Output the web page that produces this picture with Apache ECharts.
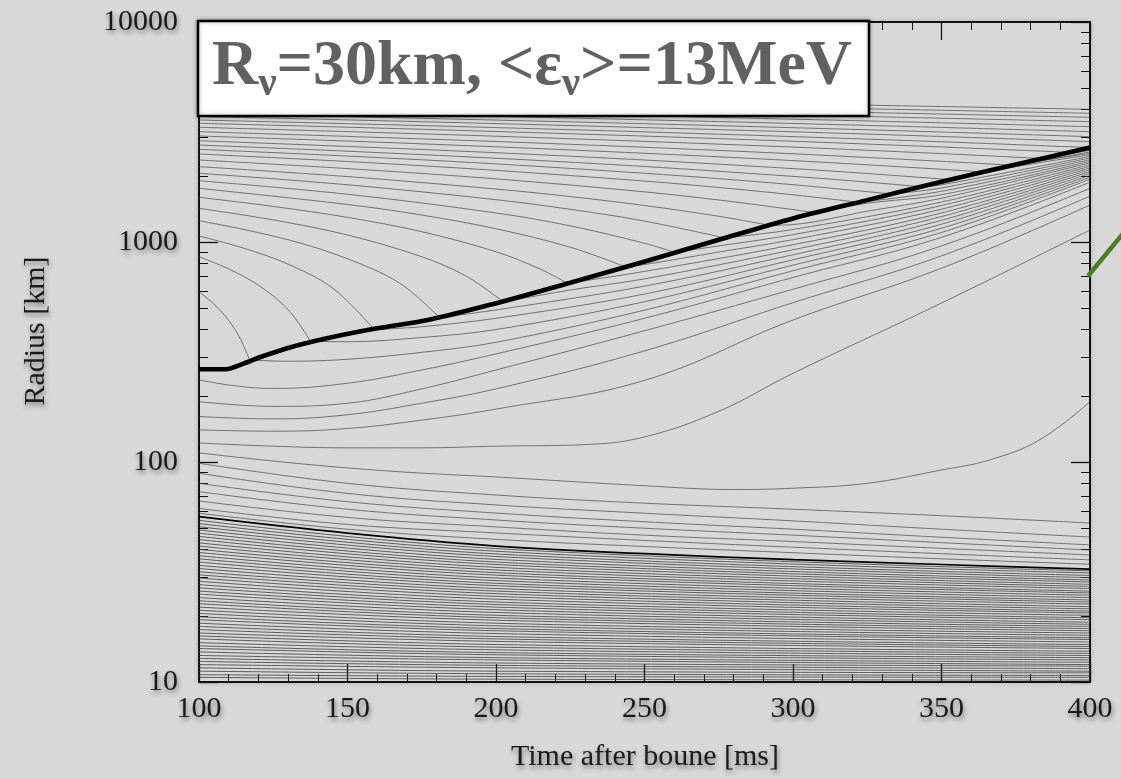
<!DOCTYPE html>
<html><head><meta charset="utf-8">
<script src="https://cdn.jsdelivr.net/npm/echarts@6/dist/echarts.min.js"></script>
<style>html,body{margin:0;padding:0;background:#d8d8d8;}#chart{width:1121px;height:779px;}</style>
</head><body><div id="chart"></div>
<script>
const FONT = '"Liberation Serif", "Times New Roman", Times, serif';

// ---- tick values / texts ----
const xTicks = [100, 150, 200, 250, 300, 350, 400];
const yMajorTicks = [10, 100, 1000, 10000];
const yMinorTicks = [20,30,40,50,60,70,80,90,200,300,400,500,600,700,800,900,2000,3000,4000,5000,6000,7000,8000,9000];
const titleParts = [['R', 0], ['ν', 1], ['=30km, <ε', 0], ['ν', 1], ['>=13MeV', 0]];
const xTitle = 'Time after boune [ms]';
const yTitle = 'Radius [km]';

// ---- shock (thick) and PNS (thin black) ----
const shockTime   = [100, 109, 115, 121, 130, 143.5, 160, 177, 198, 225, 251, 275, 300, 325, 350, 375, 400];
const shockRadius = [264, 264, 280, 301, 330, 366, 405, 442, 518, 653, 822, 1023, 1280, 1550, 1880, 2250, 2686];
const pnsTime   = [100, 150, 200, 250, 300, 350, 400];
const pnsRadius = [56.4, 47.5, 41.5, 38.3, 36, 34.2, 32.6];

// ---- outer shells that never reach the shock: [time, radius] ----
const envelopeShells = [
  [[100,4677],[150,4571],[200,4467],[250,4355],[300,4244],[350,4129],[400,4010]],
  [[100,4538],[150,4430],[200,4315],[250,4204],[300,4088],[350,3969],[400,3846]],
  [[100,4402],[150,4289],[200,4178],[250,4061],[300,3940],[350,3814],[400,3688]],
  [[100,4261],[150,4147],[200,4027],[250,3907],[300,3782],[350,3654],[400,3523]],
  [[100,4113],[150,3994],[200,3870],[250,3747],[300,3616],[350,3482],[400,3343]],
  [[100,3973],[150,3850],[200,3723],[250,3593],[300,3457],[350,3318],[400,3173]],
  [[100,3838],[150,3715],[200,3582],[250,3450],[300,3308],[350,3162],[400,3011]],
  [[100,3720],[150,3589],[200,3453],[250,3311],[300,3169],[350,3017],[400,2858]]
];

// ---- infalling shells, up to the moment they hit the shock ----
const infallShells = [
  [[100,3585],[150,3450],[200,3311],[250,3166],[300,3013],[350,2855],[400,2686]],
  [[100,3463],[150,3325],[200,3179],[250,3030],[300,2870],[350,2703],[375,2617],[393,2557]],
  [[100,3322],[150,3175],[200,3026],[250,2867],[300,2700],[350,2522],[384,2396]],
  [[100,3173],[150,3020],[200,2863],[250,2695],[300,2517],[350,2327],[374,2232]],
  [[100,3033],[150,2876],[200,2708],[250,2531],[300,2344],[350,2141],[364,2081]],
  [[100,2886],[150,2719],[200,2546],[250,2359],[300,2156],[325,2048],[353,1921]],
  [[100,2760],[150,2586],[200,2402],[250,2204],[300,1987],[325,1872],[343,1784]],
  [[100,2638],[150,2458],[200,2265],[250,2053],[275,1940],[300,1822],[333,1653]],
  [[100,2512],[150,2322],[200,2116],[250,1892],[275,1769],[300,1639],[322,1515]],
  [[100,2359],[150,2156],[200,1936],[250,1690],[275,1552],[300,1404],[307,1360]],
  [[100,2200],[150,1983],[200,1741],[225,1609],[250,1465],[275,1309],[292,1191]],
  [[100,2053],[150,1820],[200,1557],[225,1408],[250,1245],[277,1043]],
  [[100,1899],[150,1648],[200,1355],[225,1184],[250,987],[260,898]],
  [[100,1754],[150,1481],[175,1326],[200,1149],[225,947],[243.5,772]],
  [[100,1597],[125,1451],[150,1294],[175,1114],[200,903],[215,752],[224,649]],
  [[100,1423],[125,1260],[150,1076],[175,857],[190,699],[202.5,534]],
  [[100,1250],[120,1103],[140,936],[160,738],[170,616],[181,454]],
  [[100,1065],[115,938],[130,793],[145,617],[159,400]],
  [[100,857],[110,754],[120,636],[130,493],[137.5,354]],
  [[100,594],[105,522],[110,440],[114,361],[117,291]]
];

// ---- the same shells after crossing the shock ----
const shockedShells = [
  [[393,2557],[400,2650]],
  [[384,2396],[400,2610]],
  [[374,2232],[390,2420],[400,2570]],
  [[364,2081],[380,2300],[400,2530]],
  [[353,1921],[375,2200],[400,2490]],
  [[343,1784],[350,1820],[400,2450]],
  [[333,1653],[350,1760],[400,2410]],
  [[322,1515],[350,1700],[400,2370]],
  [[307,1360],[325,1500],[350,1640],[400,2330]],
  [[292,1191],[300,1200],[325,1380],[350,1580],[400,2290]],
  [[277,1043],[300,1140],[350,1520],[400,2250]],
  [[260,898],[275,960],[300,1080],[350,1465],[400,2210]],
  [[243.5,772],[250,790],[275,900],[300,1025],[350,1410],[400,2170]],
  [[224,649],[250,735],[300,972],[350,1355],[400,2130]],
  [[202.5,534],[225,605],[250,680],[300,922],[350,1305],[400,2090]],
  [[181,454],[200,491],[250,630],[300,875],[350,1255],[400,2050]],
  [[159,400],[175,412],[200,450],[250,580],[300,830],[350,1205],[400,2010]],
  [[137.5,354],[150,352],[175,368],[200,400],[250,535],[300,785],[350,1155],[400,1970]],
  [[117,291],[130,287],[150,293],[175,315],[200,350],[250,490],[300,740],[350,1105],[400,1930]]
];

// ---- shells already behind the shock at 100 ms ----
const gainShells = [
  [[100,236],[112,222],[125,216],[150,228],[175,262],[200,310],[250,450],[300,690],[350,1050],[400,1870]],
  [[100,188],[125,179],[150,185],[175,215],[200,262],[250,395],[300,610],[350,960],[400,1754]],
  [[100,161],[125,157],[150,164],[175,185],[200,215],[250,320],[300,530],[350,865],[400,1616]],
  [[100,140],[125,138],[150,142],[175,155],[200,174],[250,235],[300,442],[350,760],[400,1472]],
  [[100,122],[125,118],[150,116],[175,116],[200,118],[230,120],[250,130],[275,170],[300,253],[350,528],[400,1134]],
  [[100,110],[125,101],[150,94],[175,89],[200,85.5],[250,78],[280,75],[300,76],[325,80],[350,92],[366,102],[383,126],[400,188]]
];

// ---- shells settling onto the PNS ----
const settleTimes = [100, 150, 200, 250, 300, 350, 400];
const settleR = [
  [98.7, 80, 70.8, 65, 61, 57, 52.8],
  [88.9, 72, 63.8, 58.5, 54, 49.5, 45.6],
  [80, 66, 58.6, 53.5, 49.5, 45.5, 42],
  [73.3, 61, 54.5, 50, 46.5, 43, 39.8],
  [66.5, 56, 50.7, 46.5, 43.5, 40.5, 37.8],
  [61.5, 52, 47.6, 44, 41, 38.3, 35.9],
  [58.5, 49.5, 44.5, 41.3, 38.7, 36.3, 34.3]
];

// ---- dense core shells below the PNS line ----
const coreTimes = [100, 200, 400];
const coreR100 = [54.3,52.5,50.8,49.1,47.5,45.9,44.4,42.9,41.5,40.1,38.8,37.5,36.3,35.1,33.9,32.8,31.7,30.7,29.7,28.7,27.7,26.8,25.9,25.1,24.2,23.4,22.7,21.9,21.2,20.5,19.8,19.2,18.5,17.9,17.3,16.7,16.2,15.7,15.1,14.6,14.2,13.7,13.2,12.8,12.4,12.0,11.6,11.2,10.8,10.5];
const coreR200 = [40.4,39.3,38.2,37.2,36.1,35.1,34.2,33.2,32.3,31.4,30.6,29.7,28.9,28.1,27.4,26.6,25.9,25.2,24.5,23.8,23.1,22.5,21.9,21.3,20.7,20.1,19.6,19.1,18.5,18.0,17.5,17.1,16.6,16.1,15.7,15.3,14.8,14.4,14.0,13.6,13.3,12.9,12.6,12.2,11.9,11.6,11.2,10.9,10.6,10.3];
const coreR400 = [32.0,31.3,30.5,29.8,29.1,28.5,27.8,27.2,26.6,25.9,25.4,24.8,24.2,23.6,23.1,22.6,22.0,21.5,21.0,20.6,20.1,19.6,19.2,18.7,18.3,17.9,17.5,17.1,16.7,16.3,15.9,15.6,15.2,14.8,14.5,14.2,13.8,13.5,13.2,12.9,12.6,12.3,12.0,11.8,11.5,11.2,11.0,10.7,10.5,10.2];

// ---------------- build ----------------
const series = [];
const thin = {color: '#454545', width: 0.7};
function addLine(data, style, z, smooth) {
  series.push({type: 'line', data: data, symbol: 'none', showSymbol: false,
    smooth: smooth === undefined ? 0.4 : smooth,
    lineStyle: style, silent: true, animation: false, z: z || 2,
    xAxisIndex: 0, yAxisIndex: 0, emphasis: {disabled: true}});
}
coreR100.forEach((r, i) => {
  const cols = [coreR100, coreR200, coreR400];
  addLine(coreTimes.map((t, k) => [t, cols[k][i]]), {color: '#3c3c3c', width: 0.8}, 2);
});
settleR.forEach(row => addLine(settleTimes.map((t, k) => [t, row[k]]), thin, 2));
gainShells.forEach(s => addLine(s, thin, 2));
shockedShells.forEach(s => addLine(s, thin, 2, 0.35));
infallShells.forEach(s => addLine(s, thin, 2, 0.35));
envelopeShells.forEach(s => addLine(s, thin, 2));
addLine(pnsTime.map((t, k) => [t, pnsRadius[k]]), {color: '#000', width: 1.7}, 4);
addLine(shockTime.map((t, k) => [t, shockRadius[k]]), {color: '#000', width: 4.6}, 5, 0.3);

const labelShadow = {textShadowColor: 'rgba(0,0,0,0.45)', textShadowBlur: 5, textShadowOffsetX: 1, textShadowOffsetY: 3};
const axisCol = '#111';
const xBase = {type: 'value', min: 100, max: 400, interval: 50,
  axisLine: {show: true, onZero: false, lineStyle: {color: axisCol, width: 2}},
  axisTick: {show: true, inside: true, length: 18, lineStyle: {color: axisCol, width: 1.3}},
  minorTick: {show: true, splitNumber: 5, length: 8, lineStyle: {color: axisCol, width: 1}},
  splitLine: {show: false}, minorSplitLine: {show: false}};
const yBase = {type: 'log', logBase: 10, min: 10, max: 10000,
  axisLine: {show: true, onZero: false, lineStyle: {color: axisCol, width: 2}},
  splitLine: {show: false}, minorSplitLine: {show: false}};
const majorTick = {show: true, inside: true, length: 19, customValues: yMajorTicks, lineStyle: {color: axisCol, width: 1.3}};
const minorTick = {show: true, inside: true, length: 9, customValues: yMinorTicks, lineStyle: {color: axisCol, width: 1}};

// title pieces measured so they sit side by side
const mctx = document.createElement('canvas').getContext('2d');
const graphics = [];
graphics.push({type: 'rect', shape: {x: 198, y: 21, width: 671, height: 95},
  style: {fill: '#ffffff', stroke: '#000', lineWidth: 2.5, shadowBlur: 4, shadowColor: 'rgba(0,0,0,0.3)'}, z: 100});
let cx = 212;
titleParts.forEach(p => {
  const sz = p[1] ? 41 : 64;
  const font = 'bold ' + sz + 'px ' + FONT;
  graphics.push({type: 'text', x: cx, y: p[1] ? 84 : 67, z: 101,
    style: {text: p[0], font: font, fill: '#616161', align: 'left', verticalAlign: 'middle'}});
  mctx.font = font;
  cx += mctx.measureText(p[0]).width;
});
graphics.push({type: 'text', x: 645, y: 757, z: 50,
  style: {text: xTitle, font: '30px ' + FONT, fill: '#1a1a1a', align: 'center', verticalAlign: 'middle',
    textShadowColor: 'rgba(0,0,0,0.45)', textShadowBlur: 5, textShadowOffsetX: 1, textShadowOffsetY: 3}});
graphics.push({type: 'text', x: 36, y: 331, rotation: Math.PI / 2, z: 50,
  style: {text: yTitle, font: '30px ' + FONT, fill: '#1a1a1a', align: 'center', verticalAlign: 'middle',
    textShadowColor: 'rgba(0,0,0,0.45)', textShadowBlur: 5, textShadowOffsetX: 1, textShadowOffsetY: 3}});
graphics.push({type: 'line', shape: {x1: 1088, y1: 276, x2: 1126, y2: 230}, z: 60,
  style: {stroke: '#4d7b2c', lineWidth: 4.5}});

const chart = echarts.init(document.getElementById('chart'), null, {renderer: 'canvas'});
chart.setOption({
  backgroundColor: '#d8d8d8',
  animation: false,
  grid: {left: 199, right: 31, top: 22, bottom: 97, show: true, borderWidth: 0,
    backgroundColor: '#d8d8d8', shadowColor: 'rgba(0,0,0,0.25)', shadowBlur: 6},
  xAxis: [
    Object.assign({}, xBase, {position: 'bottom',
      axisLabel: Object.assign({show: true, margin: 12, fontSize: 30, fontFamily: FONT, color: '#1a1a1a',
        customValues: xTicks, formatter: v => String(Math.round(v))}, labelShadow)}),
    Object.assign({}, xBase, {position: 'top', axisLabel: {show: false}})
  ],
  yAxis: [
    Object.assign({}, yBase, {position: 'left', axisTick: majorTick,
      axisLabel: Object.assign({show: true, margin: 21, fontSize: 30, fontFamily: FONT, color: '#1a1a1a',
        customValues: yMajorTicks, formatter: v => String(Math.round(v))}, labelShadow)}),
    Object.assign({}, yBase, {position: 'left', axisLine: {show: false}, axisTick: minorTick, axisLabel: {show: false}}),
    Object.assign({}, yBase, {position: 'right', axisTick: majorTick, axisLabel: {show: false}}),
    Object.assign({}, yBase, {position: 'right', axisLine: {show: false}, axisTick: minorTick, axisLabel: {show: false}})
  ],
  graphic: {elements: graphics},
  series: series
});
</script></body></html>
